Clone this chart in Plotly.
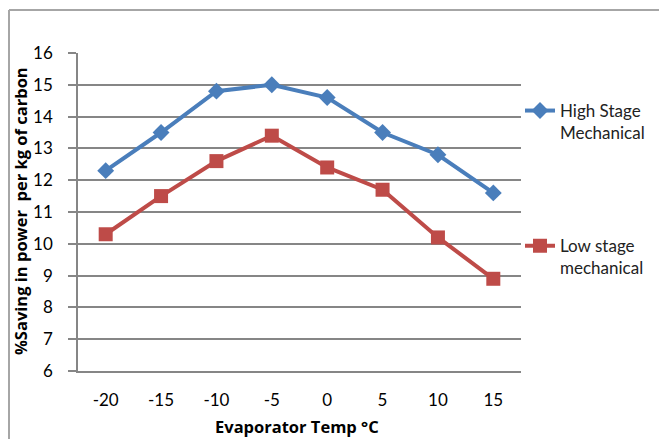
import plotly.graph_objects as go

temps = [-20, -15, -10, -5, 0, 5, 10, 15]
temp_labels = ["-20", "-15", "-10", "-5", "0", "5", "10", "15"]
high_stage = [12.3, 13.5, 14.8, 15.0, 14.6, 13.5, 12.8, 11.6]
low_stage = [10.3, 11.5, 12.6, 13.4, 12.4, 11.7, 10.2, 8.9]
y_ticks = [6, 7, 8, 9, 10, 11, 12, 13, 14, 15, 16]
x_title = "Evaporator Temp °C"
y_title = "%Saving in power  per kg of carbon"

FONT = "Lato"
TFONT = "Open Sans"
OFF = 8  # page body margin
W, H = 667, 439
L, T = 78 - OFF, 53 - OFF
pw, ph = 443, 318
R, B = W - L - pw, H - T - ph

def px_x(p):
    return (p - OFF - L) / pw

def px_y(p):
    return (T + ph - (p - OFF)) / ph

fig = go.Figure()
fig.add_trace(go.Scatter(
    x=temps, y=high_stage, mode="lines+markers",
    name="High Stage<br>Mechanical", legendgroup="a",
    line=dict(color="#4A7EBB", width=4),
    marker=dict(symbol="diamond", size=13, color="#4A7EBB"),
))
fig.add_trace(go.Scatter(
    x=temps, y=low_stage, mode="lines+markers",
    name="Low stage<br>mechanical", legendgroup="b",
    line=dict(color="#BE4B48", width=4),
    marker=dict(symbol="square", size=14, color="#BE4B48"),
))

frame_col = "#A6A6A6"
fig.add_shape(type="line", xref="paper", yref="paper",
              x0=px_x(9), x1=px_x(9), y0=px_y(10), y1=px_y(460),
              line=dict(color=frame_col, width=2))
fig.add_shape(type="line", xref="paper", yref="paper",
              x0=px_x(9), x1=px_x(690), y0=px_y(10), y1=px_y(10),
              line=dict(color=frame_col, width=2))

fig.add_annotation(text="<b>" + y_title + "</b>", xref="paper", yref="paper",
                   x=px_x(20), y=px_y(211), xanchor="center", yanchor="middle",
                   textangle=-90, showarrow=False,
                   font=dict(family=TFONT, size=16.5, color="black"))
fig.add_annotation(text="<b>" + x_title + "</b>", xref="paper", yref="paper",
                   x=px_x(297), y=px_y(426), xanchor="center", yanchor="middle",
                   showarrow=False,
                   font=dict(family=TFONT, size=16.5, color="black"))

fig.update_layout(
    width=W, height=H, autosize=False,
    margin=dict(l=L, r=R, t=T, b=B, pad=0, autoexpand=False),
    paper_bgcolor="white", plot_bgcolor="white",
    font=dict(family=FONT, size=17, color="black"),
    showlegend=True,
    legend=dict(x=px_x(520), xanchor="left", y=px_y(93), yanchor="top",
                valign="top", tracegroupgap=88, bgcolor="rgba(0,0,0,0)",
                font=dict(family=FONT, size=17, color="#222"),
                itemwidth=30),
    xaxis=dict(range=[-22.5, 17.5], tickvals=temps, ticktext=temp_labels, ticks="",
               showgrid=False, zeroline=False, showline=True, automargin=False,
               linecolor="#868686", linewidth=1.5, mirror=False,
               ticklabelstandoff=13,
               tickfont=dict(family=FONT, size=17)),
    yaxis=dict(range=[6, 16], tickvals=y_ticks, ticks="outside", ticklen=8,
               tickcolor="#868686", tickwidth=1.5, automargin=False,
               showgrid=True, gridcolor="#868686", gridwidth=1.5,
               zeroline=False, showline=True, linecolor="#868686", linewidth=1.5,
               ticklabelstandoff=12,
               tickfont=dict(family=FONT, size=17)),
)

fig.write_html("out.html")
